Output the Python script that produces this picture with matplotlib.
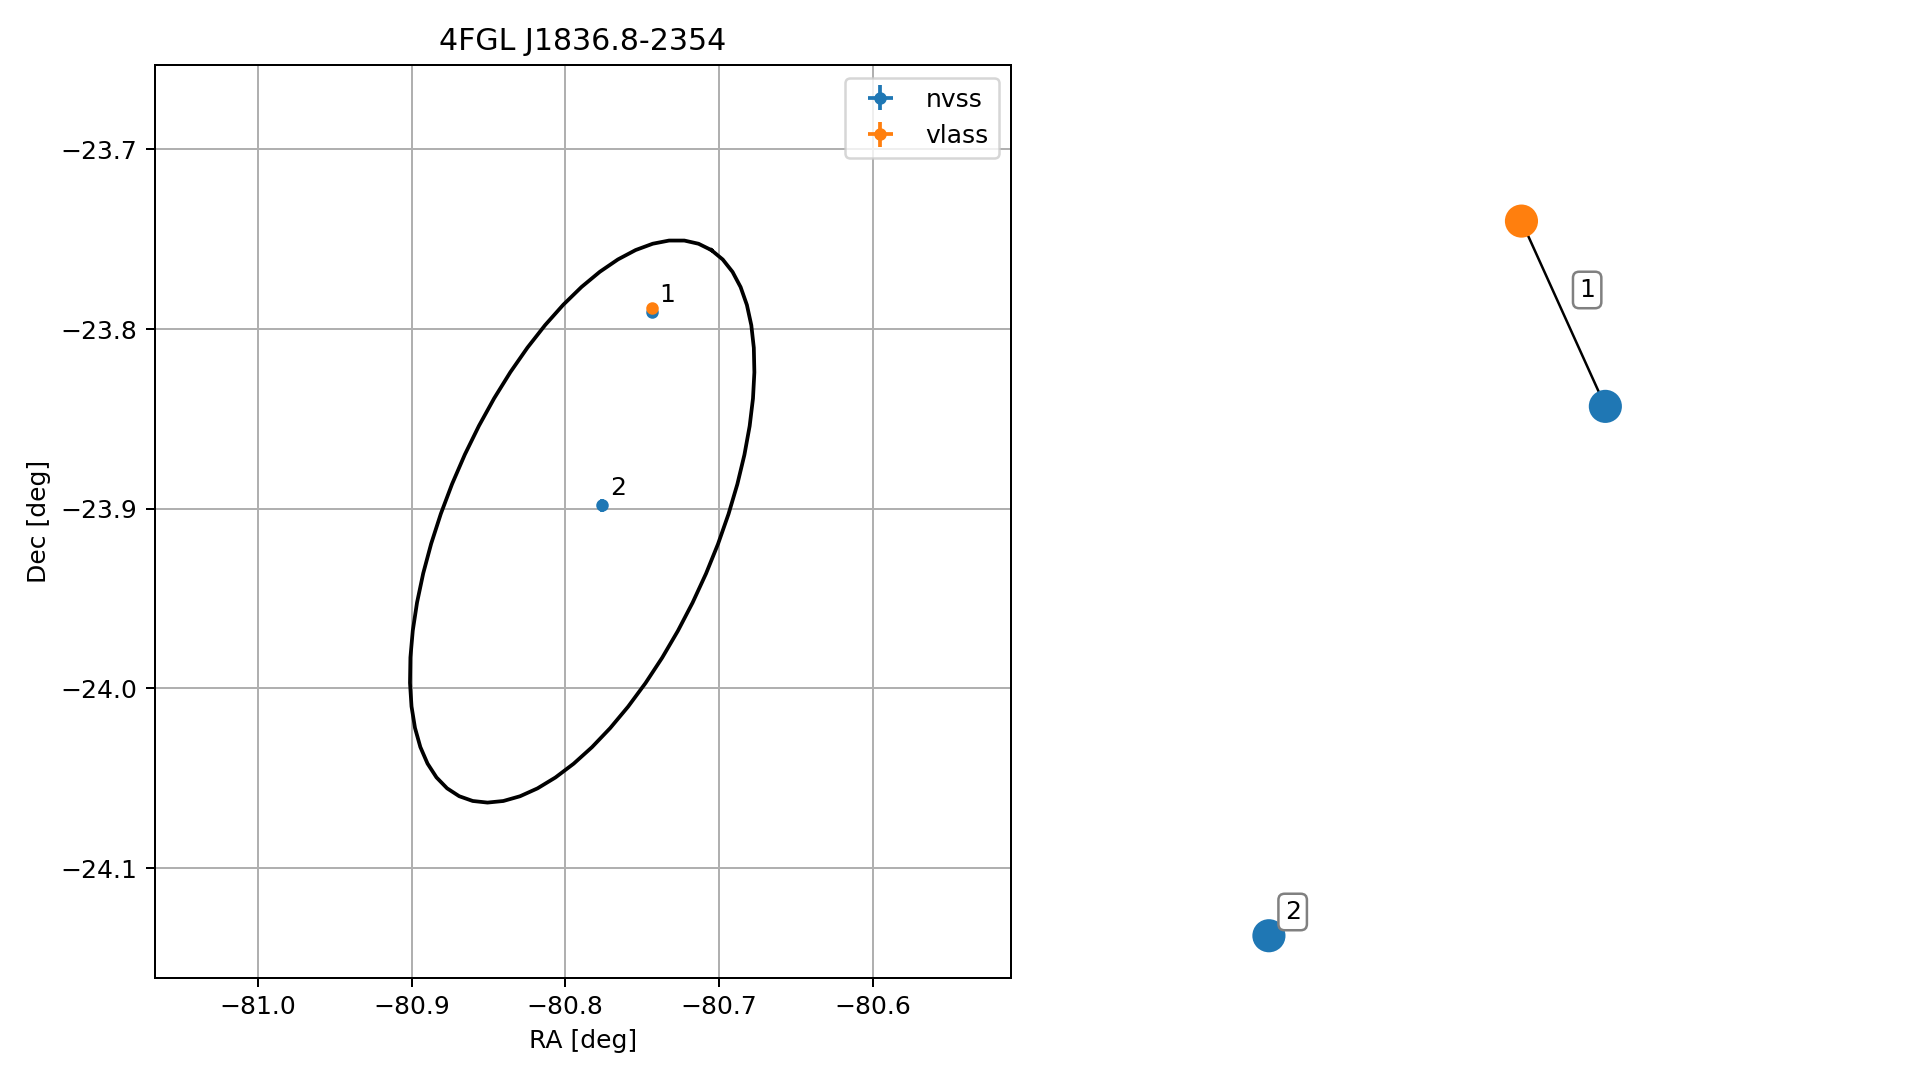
import numpy as np
import matplotlib
matplotlib.use("Agg")
import matplotlib.pyplot as plt

title = "4FGL J1836.8-2354"

# radio counterparts (deg)
nvss_ra = [-80.7438, -80.7761]
nvss_dec = [-23.7907, -23.8981]
nvss_ra_err = [0.0010, 0.0020]
nvss_dec_err = [0.0010, 0.0035]
vlass_ra = [-80.7434]
vlass_dec = [-23.7883]
vlass_ra_err = [0.0003]
vlass_dec_err = [0.0003]
source_ids = ["1", "2"]

# gamma-ray error ellipse: centre, semi-axes (deg), angle (deg)
ell_ra, ell_dec = -80.789, -23.907
ell_a, ell_b, ell_angle = 0.1728, 0.0848, 60.9

# match graph layout (right panel)
node_x = [0.567, 0.665, 0.272]
node_y = [0.829, 0.626, 0.046]
node_kind = ["vlass", "nvss", "nvss"]
edges = [(0, 1)]
groups = [[0, 1], [2]]
group_labels = ["1", "2"]

dpi = 180
fig = plt.figure(figsize=(1919 / dpi, 1080 / dpi), dpi=dpi)
ax = fig.add_axes([0.0808, 0.0947, 0.4461, 0.8451])

ax.errorbar(nvss_ra, nvss_dec, xerr=nvss_ra_err, yerr=nvss_dec_err,
            fmt='o', ms=4, label='nvss')
ax.errorbar(vlass_ra, vlass_dec, xerr=vlass_ra_err, yerr=vlass_dec_err,
            fmt='o', ms=4, label='vlass')

for sid, ra, dec in zip(source_ids, nvss_ra, nvss_dec):
    ax.annotate(sid, (ra, dec), xytext=(6.3, 7), textcoords='offset points',
                ha='center', va='center', fontsize=10)

t = np.linspace(0, 2 * np.pi, 60)
th = np.radians(ell_angle)
ex = ell_ra + ell_a * np.cos(t) * np.cos(th) - ell_b * np.sin(t) * np.sin(th)
ey = ell_dec + ell_a * np.cos(t) * np.sin(th) + ell_b * np.sin(t) * np.cos(th)
ax.plot(ex, ey, color='k', lw=1.5)

ax.set_xlim(-81.0668, -80.510)
ax.set_ylim(-24.161, -23.653)
ax.set_xticks([-81.0, -80.9, -80.8, -80.7, -80.6])
ax.set_yticks([-24.1, -24.0, -23.9, -23.8, -23.7])
ax.set_title(title, fontsize=12)
ax.set_xlabel('RA [deg]')
ax.set_ylabel('Dec [deg]')
ax.grid(True)
ax.legend(loc='upper right')

# right panel: association graph
ax2 = fig.add_axes([0.5399, 0.0947, 0.4461, 0.8451])
ax2.set_xlim(0, 1)
ax2.set_ylim(0, 1)
ax2.set_axis_off()
for i, j in edges:
    ax2.plot([node_x[i], node_x[j]], [node_y[i], node_y[j]], color='k', lw=1, zorder=1)
colors = {'nvss': 'tab:blue', 'vlass': 'tab:orange'}
ax2.scatter(node_x, node_y, s=150, c=[colors[k] for k in node_kind],
            zorder=2, clip_on=False)
for lab, g in zip(group_labels, groups):
    gx = np.mean([node_x[i] for i in g])
    gy = np.mean([node_y[i] for i in g])
    ax2.annotate(lab, (gx, gy), xytext=(9.5, 9.5), textcoords='offset points',
                 ha='center', va='center', fontsize=10, zorder=3,
                 bbox=dict(boxstyle='round,pad=0.25', fc='white', ec='gray', lw=1))

fig.savefig('out.png', dpi=dpi)
